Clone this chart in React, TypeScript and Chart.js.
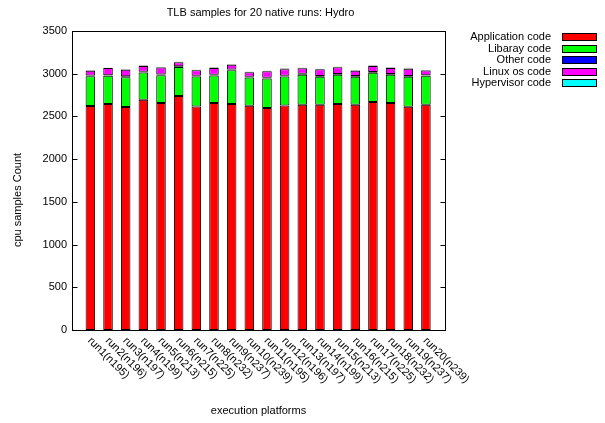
import React, { useEffect, useRef } from "react";
import { Chart, registerables } from "chart.js";

Chart.register(...registerables);

const categories = [
  "run1(n195)", "run2(n196)", "run3(n197)", "run4(n199)", "run5(n213)",
  "run6(n215)", "run7(n225)", "run8(n232)", "run9(n237)", "run10(n239)",
  "run11(n195)", "run12(n196)", "run13(n197)", "run14(n199)", "run15(n213)",
  "run16(n215)", "run17(n225)", "run18(n232)", "run19(n237)", "run20(n239)",
];

const applicationCode = [2622, 2645, 2610, 2695, 2656, 2738, 2617, 2656, 2645, 2625, 2598, 2629, 2637, 2637, 2645, 2637, 2668, 2656, 2614, 2637];
const libraryCode = [349, 330, 350, 319, 326, 342, 350, 323, 397, 331, 346, 338, 350, 327, 342, 327, 342, 331, 350, 338];
const otherCode = [8, 7, 9, 8, 8, 7, 9, 8, 8, 9, 8, 10, 12, 8, 9, 8, 9, 11, 8, 8];
const linuxCode = [57, 84, 76, 68, 84, 48, 64, 80, 56, 52, 76, 76, 64, 79, 79, 64, 72, 68, 87, 56];
const hypervisorCode = [6, 5, 6, 6, 5, 6, 5, 6, 6, 5, 6, 7, 6, 5, 6, 6, 5, 6, 6, 5];

const seriesNames = ["Application code", "Libaray code", "Other code", "Linux os code", "Hypervisor code"];
const seriesColors = ["#ff0000", "#00ff00", "#0000ff", "#ff00ff", "#00ffff"];

const yTicks = [0, 500, 1000, 1500, 2000, 2500, 3000, 3500];

const titleText = "TLB samples for 20 native runs: Hydro";
const xTitle = "execution platforms";
const yTitle = "cpu samples Count";

const FONT = "11px 'Liberation Sans', Arial, sans-serif";

const decorPlugin = {
  id: "decor",
  afterDraw(chart: any) {
    const ctx = chart.ctx;
    const area = chart.chartArea;
    const xs = chart.scales.x;
    const ys = chart.scales.y;
    ctx.save();
    ctx.strokeStyle = "#000";
    ctx.lineWidth = 1;
    const l = Math.round(area.left) + 0.5;
    const r = Math.round(area.right) + 0.5;
    const t = Math.round(area.top) + 0.5;
    const b = Math.round(area.bottom) + 0.5;
    ctx.strokeRect(l, t, r - l, b - t);
    yTicks.forEach((v) => {
      const y = Math.round(ys.getPixelForValue(v)) + 0.5;
      ctx.beginPath();
      ctx.moveTo(l, y);
      ctx.lineTo(l + 5, y);
      ctx.moveTo(r, y);
      ctx.lineTo(r - 5, y);
      ctx.stroke();
    });
    ctx.fillStyle = "#000";
    ctx.font = FONT;
    const cx = (area.left + area.right) / 2;
    ctx.textAlign = "center";
    ctx.textBaseline = "middle";
    ctx.fillText(titleText, cx + 2, 13);
    ctx.fillText(xTitle, cx, 411);
    ctx.save();
    ctx.translate(18, 200);
    ctx.rotate(-Math.PI / 2);
    ctx.fillText(yTitle, 0, 0);
    ctx.restore();
    categories.forEach((lab, i) => {
      const x = xs.getPixelForValue(i + 1);
      ctx.save();
      ctx.translate(x - 1, area.bottom + 9);
      ctx.rotate(Math.PI / 4);
      ctx.textAlign = "left";
      ctx.textBaseline = "middle";
      ctx.fillText(lab, 0, 0);
      ctx.restore();
    });
    chart.data.datasets.forEach((ds: any, i: number) => {
      const y = 37 + i * 11.6;
      ctx.textAlign = "right";
      ctx.textBaseline = "middle";
      ctx.fillStyle = "#000";
      ctx.fillText(ds.label, 551, y);
      ctx.fillStyle = ds.backgroundColor;
      ctx.fillRect(562, Math.round(y) - 3, 35, 6);
      ctx.strokeStyle = "#000";
      ctx.strokeRect(562.5, Math.round(y) - 3.5, 34, 7);
    });
    ctx.restore();
  },
};

export default function App() {
  const ref = useRef<HTMLCanvasElement | null>(null);
  useEffect(() => {
    document.body.style.margin = "0";
    const seriesValues = [applicationCode, libraryCode, otherCode, linuxCode, hypervisorCode];
    const chart = new Chart(ref.current as HTMLCanvasElement, {
      type: "bar",
      data: {
        datasets: seriesValues.map((vals, k) => ({
          label: seriesNames[k],
          data: vals.map((v, i) => ({ x: i + 1, y: v })),
          backgroundColor: seriesColors[k],
          borderColor: "#000",
          borderWidth: 1,
          borderSkipped: false,
          barPercentage: 0.54,
          categoryPercentage: 1,
        })),
      },
      options: {
        responsive: false,
        animation: false,
        devicePixelRatio: 1,
        layout: { padding: { left: 0, right: 160, top: 31, bottom: 93 } },
        plugins: { legend: { display: false }, tooltip: { enabled: false }, title: { display: false } },
        scales: {
          x: { type: "linear", min: -0.04, max: 21.08, offset: false, stacked: true, display: false },
          y: {
            stacked: true,
            min: 0,
            max: 3500,
            afterBuildTicks: (s: any) => {
              s.ticks = yTicks.map((v) => ({ value: v }));
            },
            afterFit: (s: any) => {
              s.width = 72;
            },
            ticks: {
              color: "#000",
              padding: 5,
              callback: (v: any) => String(v),
              font: { family: "'Liberation Sans', Arial, sans-serif", size: 11 },
            },
            grid: { display: false, drawTicks: false },
            border: { display: false },
          },
        },
      } as any,
      plugins: [decorPlugin],
    });
    return () => chart.destroy();
  }, []);
  return <canvas ref={ref} width={605} height={423} style={{ display: "block" }} />;
}
